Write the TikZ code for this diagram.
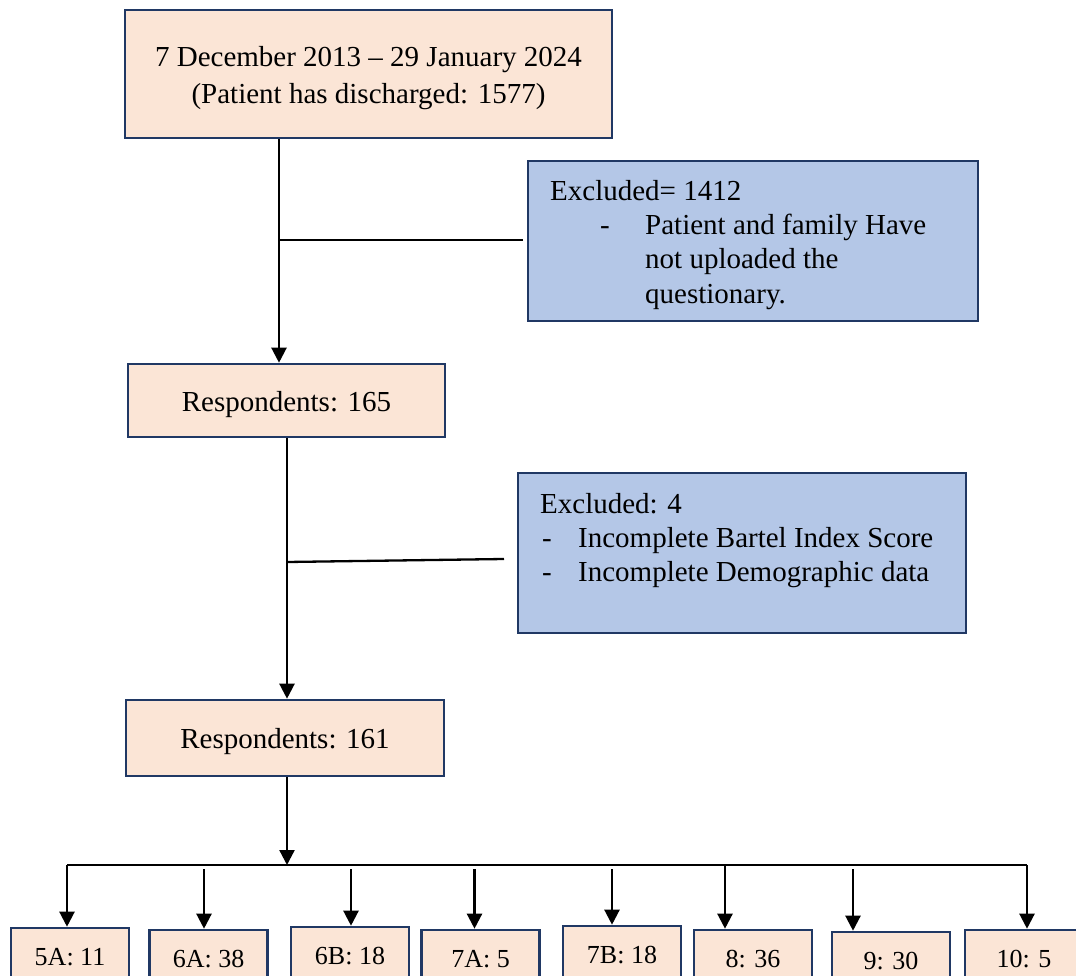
\documentclass[tikz,border=0pt]{standalone}
\usepackage{fontspec}
\setmainfont{Liberation Serif}
\usetikzlibrary{arrows.meta,calc}
\definecolor{peach}{HTML}{FBE5D6}
\definecolor{paleblue}{HTML}{B4C7E7}
\definecolor{navy}{HTML}{203864}
\begin{document}
\begin{tikzpicture}[x=1pt,y=-1pt,
  box/.style={draw=navy,line width=2.6pt,fill=peach,inner sep=0pt},
  boxtext/.style={inner sep=0pt,align=center,font=\fontsize{29}{37}\selectfont},
  smallbox/.style={box,minimum width=118pt,minimum height=58pt,font=\fontsize{26}{30}\selectfont},
  exbox/.style={draw=navy,line width=2.6pt,fill=paleblue,inner sep=0pt},
  conn/.style={line width=2.3pt,black},
  arr/.style={conn,-{Triangle[length=15pt,width=15pt]}},
  txt/.style={font=\fontsize{29}{34}\selectfont,anchor=base west,inner sep=0pt}]
\useasboundingbox (0,0) rectangle (1076,976);
\clip (0,0) rectangle (1076,976);

% main boxes
\node[box,minimum width=487pt,minimum height=128pt] (top) at (368.5,74) {};
\node[boxtext] (topt) at ($(top)+(0,4)$)
  {7 December 2013 -- 29 January 2024\\(Patient has discharged: 1577)};
\node[box,minimum width=317pt,minimum height=73pt] (r165) at (286.5,400.5) {};
\node[boxtext] (r165t) at ($(r165)+(0,4)$) {Respondents: 165};
\node[box,minimum width=318pt,minimum height=76pt] (r161) at (285,738) {};
\node[boxtext] (r161t) at ($(r161)+(0,4)$) {Respondents: 161};

% exclusion boxes
\node[exbox,minimum width=450pt,minimum height=160pt] (ex1) at (753,241) {};
\node[txt] (ex1a) at (550,201) {Excluded= 1412};
\node[txt] (ex1d) at (600,235) {-};
\node[txt] (ex1b) at (645,235) {Patient and family Have};
\node[txt] (ex1c) at (645,269) {not uploaded the};
\node[txt] (ex1e) at (645,303) {questionary.};

\node[exbox,minimum width=448pt,minimum height=160pt] (ex2) at (742,553) {};
\node[txt] (ex2a) at (540,513) {Excluded: 4};
\node[txt] (ex2d1) at (542,547) {-};
\node[txt] (ex2b) at (578,547) {Incomplete Bartel Index Score};
\node[txt] (ex2d2) at (542,581) {-};
\node[txt] (ex2c) at (578,581) {Incomplete Demographic data};

% bottom boxes
\node[smallbox] (n5A) at (70,957) {5A: 11};
\node[smallbox] (n6A) at (208.5,959) {6A: 38};
\node[smallbox] (n6B) at (350,956) {6B: 18};
\node[smallbox] (n7A) at (480.5,959) {7A: 5};
\node[smallbox] (n7B) at (622,955) {7B: 18};
\node[smallbox] (n8) at (753,959) {8: 36};
\node[smallbox] (n9) at (891,961) {9: 30};
\node[smallbox] (n10) at (1024,959) {10: 5};

% connectors
\coordinate (v1) at (279,0);
\coordinate (v2) at (287,0);
\draw[arr] (v1 |- top.south) -- (v1 |- r165.north);
\coordinate (j1) at (279,240);
\coordinate (e1) at (523,240);
\draw[conn] (j1) -- (e1);

\draw[arr] (v2 |- r165.south) -- (v2 |- r161.north);
\coordinate (j2) at (287,562);
\coordinate (e2) at (504,559);
\draw[conn] (j2) -- (e2);

\coordinate (bus) at (287,865);
\draw[arr] (v2 |- r161.south) -- (bus);
\coordinate (bL) at (67,865);
\coordinate (bR) at (1027,865);
\draw[conn] (bL) -- (bR);

\coordinate (a5A) at (67,865);
\coordinate (a6A) at (204,869);
\coordinate (a6B) at (351,869);
\coordinate (a7A) at (474.5,869);
\coordinate (a7B) at (612,869);
\coordinate (a8) at (725,865);
\coordinate (a9) at (853,869);
\coordinate (a10) at (1027,865);
\draw[arr] (a5A) -- (a5A |- n5A.north);
\draw[arr] (a6A) -- (a6A |- n6A.north);
\draw[arr] (a6B) -- (a6B |- n6B.north);
\draw[arr] (a7A) -- (a7A |- n7A.north);
\draw[arr] (a7B) -- (a7B |- n7B.north);
\draw[arr] (a8) -- (a8 |- n8.north);
\draw[arr] (a9) -- (a9 |- n9.north);
\draw[arr] (a10) -- (a10 |- n10.north);
\end{tikzpicture}
\end{document}
